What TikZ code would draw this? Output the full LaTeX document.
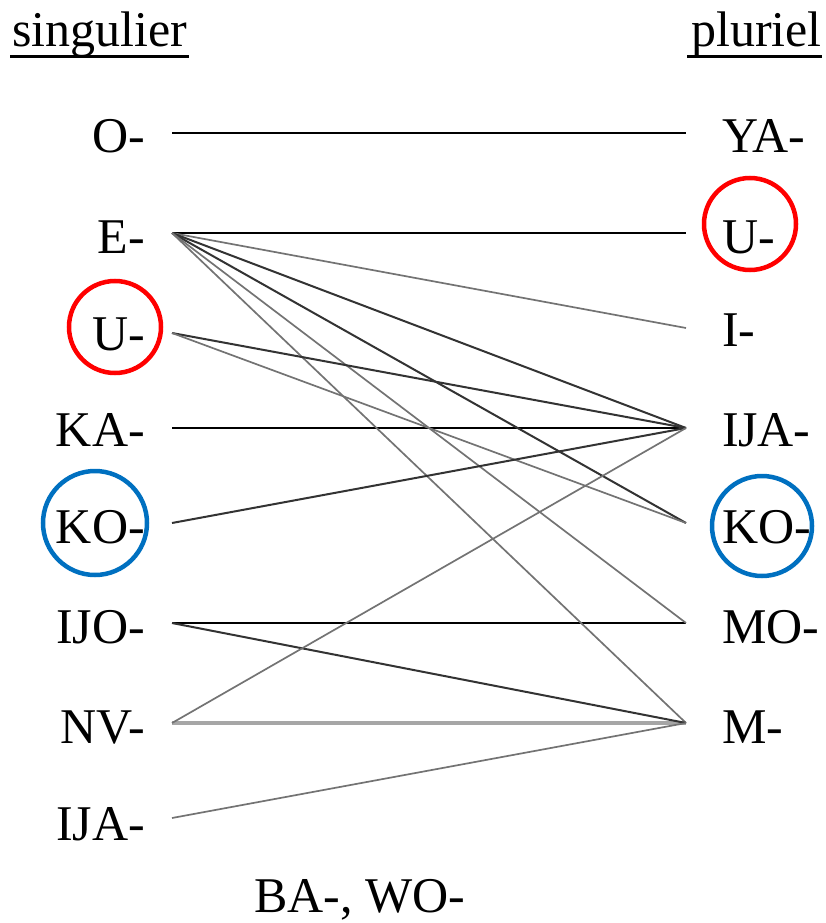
\documentclass[tikz,border=0pt]{standalone}
\usepackage{fontspec}
\setmainfont{Liberation Serif}
\definecolor{ringred}{HTML}{FF0000}
\definecolor{ringblue}{HTML}{0070C0}
\begin{document}
\begin{tikzpicture}[x=1pt,y=-1pt,
  lbl/.style={inner sep=0pt,font=\fontsize{50}{50}\selectfont},
  lefttxt/.style={lbl,anchor=base east},
  righttxt/.style={lbl,anchor=base west},
  strong/.style={line width=2.8pt,black},
  dark/.style={line width=2pt,black!80},
  light/.style={line width=1.7pt,black!55},
  wide/.style={line width=4pt,black!35},
  ring/.style={line width=4.5pt}]
\useasboundingbox (0,0) rectangle (826,923);

% column headings
\node[lbl,anchor=base west] (sg) at (12,47) {singulier};
\node[lbl,anchor=base east] (pl) at (822,47) {pluriel};
\draw[line width=3pt] (10,57) -- (189,57);
\draw[line width=3pt] (687,57) -- (822,57);

% singular prefixes
\node[lefttxt] (sO)   at (145,153) {O-};
\node[lefttxt] (sE)   at (145,253) {E-};
\node[lefttxt] (sU)   at (145,350) {U-};
\node[lefttxt] (sKA)  at (145,446) {KA-};
\node[lefttxt] (sKO)  at (145,543) {KO-};
\node[lefttxt] (sIJO) at (145,643) {ĲO-};
\node[lefttxt] (sNV)  at (145,743) {NV-};
\node[lefttxt] (sIJA) at (145,840) {ĲA-};

% plural prefixes
\node[righttxt] (pYA)  at (722,153) {YA-};
\node[righttxt] (pU)   at (722,253) {U-};
\node[righttxt] (pI)   at (722,346) {I-};
\node[righttxt] (pIJA) at (722,446) {ĲA-};
\node[righttxt] (pKO)  at (722,543) {KO-};
\node[righttxt] (pMO)  at (722,643) {MO-};
\node[righttxt] (pM)   at (722,743) {M-};

\node[lbl,anchor=base west] (other) at (254,912) {BA-, WO-};

% line ends
\coordinate (aO)   at (172,133);
\coordinate (aE)   at (172,233);
\coordinate (aU)   at (172,333);
\coordinate (aKA)  at (172,428);
\coordinate (aKO)  at (172,523);
\coordinate (aIJO) at (172,623);
\coordinate (aNV)  at (172,723);
\coordinate (aIJA) at (172,818);

\coordinate (bYA)  at (686,133);
\coordinate (bU)   at (686,233);
\coordinate (bI)   at (686,328);
\coordinate (bIJA) at (686,428);
\coordinate (bKO)  at (686,523);
\coordinate (bMO)  at (686,623);
\coordinate (bM)   at (686,723);

% correspondences
\draw[strong] (aO) -- (bYA);
\draw[strong] (aE) -- (bU);
\draw[strong] (aKA) -- (bIJA);
\draw[strong] (aIJO) -- (bMO);
\draw[wide] (aNV) -- (bM);

\draw[light] (aE) -- (bI);
\draw[dark]  (aE) -- (bIJA);
\draw[dark]  (aE) -- (bKO);
\draw[light] (aE) -- (bMO);
\draw[light] (aE) -- (bM);
\draw[dark]  (aU) -- (bIJA);
\draw[light] (aU) -- (bKO);
\draw[dark]  (aKO) -- (bIJA);
\draw[dark]  (aIJO) -- (bM);
\draw[light] (aNV) -- (bIJA);
\draw[light] (aIJA) -- (bM);

% highlighted prefixes
\draw[ring,ringred]  (115,327) circle (46);
\draw[ring,ringred]  (750,224) circle (46);
\draw[ring,ringblue] (95,523)  circle (52);
\draw[ring,ringblue] (762,526) circle (50);
\end{tikzpicture}
\end{document}
